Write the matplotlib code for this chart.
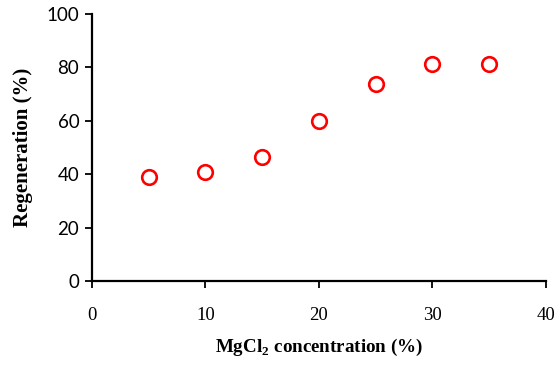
import numpy as np
import matplotlib.pyplot as plt

# Data
mgcl2 = [5, 10, 15, 20, 25, 30, 35]
regen = [39.1, 41.0, 46.6, 60.0, 73.6, 81.2, 81.2]

x_ticks = [0, 10, 20, 30, 40]
y_ticks = [0, 20, 40, 60, 80, 100]

plt.rcParams['mathtext.fontset'] = 'custom'
plt.rcParams['mathtext.rm'] = 'Liberation Serif:bold'
plt.rcParams['mathtext.bf'] = 'Liberation Serif:bold'

fig = plt.figure(figsize=(5.6, 3.66), dpi=100)
ax = fig.add_axes([0.164, 0.232, 0.811, 0.730])

ax.plot(mgcl2, regen, 'o', markerfacecolor='none', markeredgecolor='#ff0000',
        markersize=10.5, markeredgewidth=1.9, clip_on=False)

ax.set_xlim(0, 40)
ax.set_ylim(0, 100)
ax.set_xticks(x_ticks)
ax.set_yticks(y_ticks)
ax.set_xticklabels([str(v) for v in x_ticks], family='Liberation Serif', fontsize=13.5)
ax.set_yticklabels([str(v) for v in y_ticks], family='Lato', fontsize=13.5)

for s in ['top', 'right']:
    ax.spines[s].set_visible(False)
for s in ['left', 'bottom']:
    ax.spines[s].set_linewidth(1.6)
ax.tick_params(axis='both', direction='out', length=5, width=1.3)
ax.tick_params(axis='x', pad=14)
ax.tick_params(axis='y', pad=4)

ax.set_xlabel('MgCl$_2$ concentration (%)', family='Liberation Serif',
              fontweight='bold', fontsize=13.7, labelpad=9)
ax.set_ylabel('Regeneration (%)', family='Liberation Serif',
              fontweight='bold', fontsize=15, labelpad=10)

fig.savefig('out.png', dpi=100)
